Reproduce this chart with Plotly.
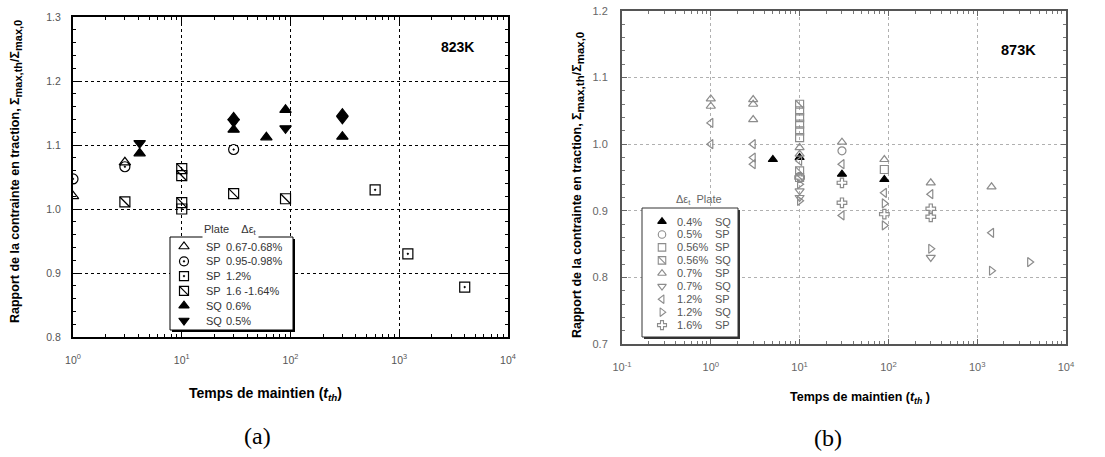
import plotly.graph_objects as go

W, H = 1105, 457

# ---------------- Panel (a) 823K data ----------------
a_sp067_x = [1, 3]
a_sp067_y = [1.020, 1.073]
a_sp095_x = [1, 3, 30]
a_sp095_y = [1.047, 1.066, 1.093]
a_sp12_x = [10, 600, 1200, 4000]
a_sp12_y = [1.000, 1.030, 0.930, 0.878]
a_sp16_x = [3, 10, 10, 10, 30, 90]
a_sp16_y = [1.011, 1.063, 1.052, 1.010, 1.024, 1.016]
a_sq06_x = [4.1, 30, 30, 60, 90, 300, 300]
a_sq06_y = [1.087, 1.143, 1.124, 1.112, 1.155, 1.149, 1.113]
a_sq05_x = [4.1, 30, 90, 300]
a_sq05_y = [1.103, 1.136, 1.126, 1.141]

a_leg_plate = ["SP", "SP", "SP", "SP", "SQ", "SQ"]
a_leg_strain = ["0.67-0.68%", "0.95-0.98%", "1.2%", "1.6 -1.64%", "0.6%", "0.5%"]

# ---------------- Panel (b) 873K data ----------------
b_sq04_x = [5, 10, 30, 90]
b_sq04_y = [0.977, 0.980, 0.955, 0.947]
b_sp05_x = [30]
b_sp05_y = [0.990]
b_sp056_x = [10, 10, 10, 10, 10, 90]
b_sp056_y = [1.050, 1.040, 1.030, 1.020, 1.010, 0.962]
b_sq056_x = [10, 10, 10]
b_sq056_y = [1.060, 0.960, 0.950]
b_sp07_x = [1, 1, 3, 3, 3, 10, 10, 30, 90, 300, 1450]
b_sp07_y = [1.068, 1.057, 1.067, 1.060, 1.037, 0.995, 0.985, 1.003, 0.977, 0.942, 0.936]
b_sq07_x = [10, 10, 300]
b_sq07_y = [0.930, 0.920, 0.830]
b_sp12_x = [1, 1, 3, 3, 3, 10, 30, 30, 90, 300, 1450]
b_sp12_y = [1.032, 1.000, 1.000, 0.980, 0.970, 0.975, 0.970, 0.893, 0.927, 0.925, 0.867]
b_sq12_x = [10, 10, 90, 90, 300, 1450, 3900]
b_sq12_y = [0.940, 0.915, 0.911, 0.878, 0.843, 0.810, 0.823]
b_sp16_x = [10, 30, 30, 90, 300, 300]
b_sp16_y = [0.950, 0.942, 0.912, 0.895, 0.903, 0.891]

b_leg_strain = ["0.4%", "0.5%", "0.56%", "0.56%", "0.7%", "0.7%", "1.2%", "1.2%", "1.6%"]
b_leg_plate = ["SQ", "SP", "SP", "SQ", "SP", "SQ", "SP", "SQ", "SP"]

a_xtickvals = [1, 10, 100, 1000, 10000]
a_xticktext = ["10<sup>0</sup>", "10<sup>1</sup>", "10<sup>2</sup>", "10<sup>3</sup>", "10<sup>4</sup>"]
b_xtickvals = [0.1, 1, 10, 100, 1000, 10000]
b_xticktext = ["10<sup>-1</sup>", "10<sup>0</sup>", "10<sup>1</sup>", "10<sup>2</sup>", "10<sup>3</sup>", "10<sup>4</sup>"]


def px(x):
    return x / W


def py(y):
    return 1 - y / H


fig = go.Figure()

BLK = "black"
GRY = "#8c8c8c"


def add(x, y, sym, color, xa, ya, size, lw=1.2):
    fig.add_trace(go.Scatter(
        x=x, y=y, mode="markers", xaxis=xa, yaxis=ya, showlegend=False,
        hoverinfo="x+y",
        marker=dict(symbol=sym, size=size, color=color,
                    line=dict(color=color, width=lw)),
    ))


# Panel (a) series
sa = 10
a_series = [
    (a_sp067_x, a_sp067_y, "triangle-up-open"),
    (a_sp095_x, a_sp095_y, "circle-open-dot"),
    (a_sp12_x, a_sp12_y, "square-open-dot"),
    (a_sp16_x, a_sp16_y, "square-open"),
    (a_sq06_x, a_sq06_y, "triangle-up"),
    (a_sq05_x, a_sq05_y, "triangle-down"),
]
for x, y, s in a_series:
    add(x, y, s, BLK, "x", "y", sa)
add(a_sp16_x, a_sp16_y, "line-nw-open", BLK, "x", "y", sa)

# Panel (b) series
sb = 8
b_series = [
    (b_sq04_x, b_sq04_y, "triangle-up", BLK),
    (b_sp05_x, b_sp05_y, "circle-open", GRY),
    (b_sp056_x, b_sp056_y, "square-open", GRY),
    (b_sq056_x, b_sq056_y, "square-open", GRY),
    (b_sp07_x, b_sp07_y, "triangle-up-open", GRY),
    (b_sq07_x, b_sq07_y, "triangle-down-open", GRY),
    (b_sp12_x, b_sp12_y, "triangle-left-open", GRY),
    (b_sq12_x, b_sq12_y, "triangle-right-open", GRY),
    (b_sp16_x, b_sp16_y, "cross-open", GRY),
]
for x, y, s, c in b_series:
    add(x, y, s, c, "x2", "y2", sb)
add(b_sq056_x, b_sq056_y, "line-nw-open", GRY, "x2", "y2", sb)

# ---------------- custom legends (pixel overlay axes x3/y3) ----------------
LA = dict(x0=170, x1=293, y0=237, y1=330, row0=246.5, dy=14.8, sym_x=184, plate_x=204, val_x=224)
LB = dict(x0=642, x1=738, y0=208, y1=337, row0=221.5, dy=12.95, sym_x=662, val_x=675, plate_x=713)

la_rows = [LA["row0"] + i * LA["dy"] for i in range(len(a_leg_plate))]
lb_rows = [LB["row0"] + i * LB["dy"] for i in range(len(b_leg_plate))]

fig.add_trace(go.Scatter(
    x=[LA["sym_x"]] * len(la_rows), y=la_rows, mode="markers", xaxis="x3", yaxis="y3",
    showlegend=False, hoverinfo="skip",
    marker=dict(symbol=[s for _, _, s in a_series], size=9, color=BLK,
                line=dict(color=BLK, width=1.2))))
fig.add_trace(go.Scatter(
    x=[LA["sym_x"]], y=[la_rows[3]], mode="markers", xaxis="x3", yaxis="y3",
    showlegend=False, hoverinfo="skip",
    marker=dict(symbol="line-nw-open", size=9, color=BLK, line=dict(color=BLK, width=1.2))))
fig.add_trace(go.Scatter(
    x=[LB["sym_x"]] * len(lb_rows), y=lb_rows, mode="markers", xaxis="x3", yaxis="y3",
    showlegend=False, hoverinfo="skip",
    marker=dict(symbol=[s for _, _, s, _ in b_series], size=7.5,
                color=[c for _, _, _, c in b_series],
                line=dict(color=[c for _, _, _, c in b_series], width=1.1))))
fig.add_trace(go.Scatter(
    x=[LB["sym_x"]], y=[lb_rows[3]], mode="markers", xaxis="x3", yaxis="y3",
    showlegend=False, hoverinfo="skip",
    marker=dict(symbol="line-nw-open", size=7.5, color=GRY, line=dict(color=GRY, width=1.1))))

shapes = []
for L, col in ((LA, BLK), (LB, "#333")):
    shapes.append(dict(type="rect", xref="x3", yref="y3", layer="below",
                       x0=L["x0"] + 2, x1=L["x1"] + 2, y0=L["y0"] + 2, y1=L["y1"] + 2,
                       fillcolor=col, line=dict(width=0)))
    shapes.append(dict(type="rect", xref="x3", yref="y3", layer="below",
                       x0=L["x0"], x1=L["x1"], y0=L["y0"], y1=L["y1"],
                       fillcolor="white", line=dict(color=col, width=1)))

tickfont_a = dict(family="Liberation Sans, Arial", size=10.5, color="#555")
tickfont_b = dict(family="Liberation Sans, Arial", size=11, color="#666")

common_x = dict(type="log", showline=True, mirror="ticks", ticks="inside",
                zeroline=False, griddash="dot", automargin=False)

fig.update_layout(
    width=W, height=H, margin=dict(l=0, r=0, t=0, b=0),
    paper_bgcolor="white", plot_bgcolor="rgba(0,0,0,0)",
    font=dict(family="Liberation Sans, Arial"),
    showlegend=False, shapes=shapes,
    xaxis=dict(domain=[px(73), px(508)], anchor="y", range=[0, 4],
               tickvals=a_xtickvals, ticktext=a_xticktext, tickfont=tickfont_a,
               linecolor=BLK, linewidth=2, tickcolor=BLK, ticklen=6, tickwidth=1,
               showgrid=True, gridcolor=BLK, gridwidth=1, ticklabelstandoff=12,
               minor=dict(ticks="inside", ticklen=3, tickcolor=BLK, dtick="D1", showgrid=False),
               **common_x),
    yaxis=dict(domain=[py(337), py(17)], anchor="x", range=[0.8, 1.3], dtick=0.1,
               tickformat=".1f", tickfont=tickfont_a, showline=True, mirror="ticks",
               ticks="inside", linecolor=BLK, linewidth=2, tickcolor=BLK, ticklen=6,
               showgrid=True, gridcolor=BLK, gridwidth=1, griddash="dot", zeroline=False,
               ticklabelstandoff=8, automargin=False,
               minor=dict(ticks="inside", ticklen=3, tickcolor=BLK, dtick=0.02, showgrid=False)),
    xaxis2=dict(domain=[px(622), px(1066)], anchor="y2", range=[-1, 4],
                tickvals=b_xtickvals, ticktext=b_xticktext, tickfont=tickfont_b,
                linecolor="#555", linewidth=2, tickcolor="#666", ticklen=5, tickwidth=1,
                showgrid=True, gridcolor="#b0b0b0", gridwidth=1, ticklabelstandoff=12,
                minor=dict(ticks="inside", ticklen=3, tickcolor="#777", dtick="D1", showgrid=False),
                **common_x),
    yaxis2=dict(domain=[py(344), py(11)], anchor="x2", range=[0.7, 1.2], dtick=0.1,
                tickformat=".1f", tickfont=tickfont_b, showline=True, mirror="ticks",
                ticks="inside", linecolor="#555", linewidth=2, tickcolor="#666", ticklen=5,
                showgrid=True, gridcolor="#b0b0b0", gridwidth=1, griddash="dot", zeroline=False,
                ticklabelstandoff=10, automargin=False,
                minor=dict(ticks="inside", ticklen=3, tickcolor="#777", dtick=0.02, showgrid=False)),
    xaxis3=dict(domain=[0, 1], anchor="y3", range=[0, W], visible=False, automargin=False),
    yaxis3=dict(domain=[0, 1], anchor="x3", range=[H, 0], visible=False, automargin=False),
)

ann = []
ylab = ("<b>Rapport de la contrainte en traction, Σ<sub><span style='font-size:{s}px'>max,th</span></sub>"
        "/Σ<sub><span style='font-size:{s}px'>max,0</span></sub></b>")
ann.append(dict(text=ylab.format(s=11), x=16, y=172, textangle=-90,
                font=dict(size=12.5, color="black")))
ann.append(dict(text="<b>Temps de maintien (<i>t<sub>th</sub></i>)</b>",
                x=265, y=394, font=dict(size=14, color="black")))
ann.append(dict(text="(a)", x=257, y=436,
                font=dict(family="Liberation Serif, DejaVu Serif", size=24, color="black")))
ann.append(dict(text="<b>823K</b>", x=457, y=47, font=dict(size=14, color="black")))
ann.append(dict(text="Plate    Δε<sub>t</sub>", x=230, y=230,
                font=dict(size=11, color="#333"), bgcolor="white"))

ann.append(dict(text=ylab.format(s=11.5), x=578, y=185, textangle=-90,
                font=dict(size=12.5, color="black")))
ann.append(dict(text="<b>Temps de maintien (<i>t<sub>th</sub></i> )</b>",
                x=860, y=398, font=dict(size=12.5, color="black")))
ann.append(dict(text="(b)", x=828, y=438,
                font=dict(family="Liberation Serif, DejaVu Serif", size=24, color="black")))
ann.append(dict(text="<b>873K</b>", x=1018, y=50, font=dict(size=14.5, color="black")))
ann.append(dict(text="Δε<sub>t</sub>  Plate", x=699, y=200,
                font=dict(size=11, color="#666")))

for a in ann:
    a.update(xanchor="center", yanchor="middle")

# legend texts
for i, yy in enumerate(la_rows):
    ann.append(dict(text=a_leg_plate[i], x=LA["plate_x"], y=yy, xanchor="left", yanchor="middle",
                    font=dict(size=11, color="#333")))
    ann.append(dict(text=a_leg_strain[i], x=LA["val_x"], y=yy, xanchor="left", yanchor="middle",
                    font=dict(size=11, color="#333")))
for i, yy in enumerate(lb_rows):
    ann.append(dict(text=b_leg_strain[i], x=LB["val_x"], y=yy, xanchor="left", yanchor="middle",
                    font=dict(size=11, color="#555")))
    ann.append(dict(text=b_leg_plate[i], x=LB["plate_x"], y=yy, xanchor="left", yanchor="middle",
                    font=dict(size=11, color="#555")))

for a in ann:
    a.update(xref="x3", yref="y3", showarrow=False)
fig.update_layout(annotations=ann)

fig.write_html("out.html", config={"displayModeBar": False},
               post_script="document.body.style.margin='0';document.body.style.padding='0';")
